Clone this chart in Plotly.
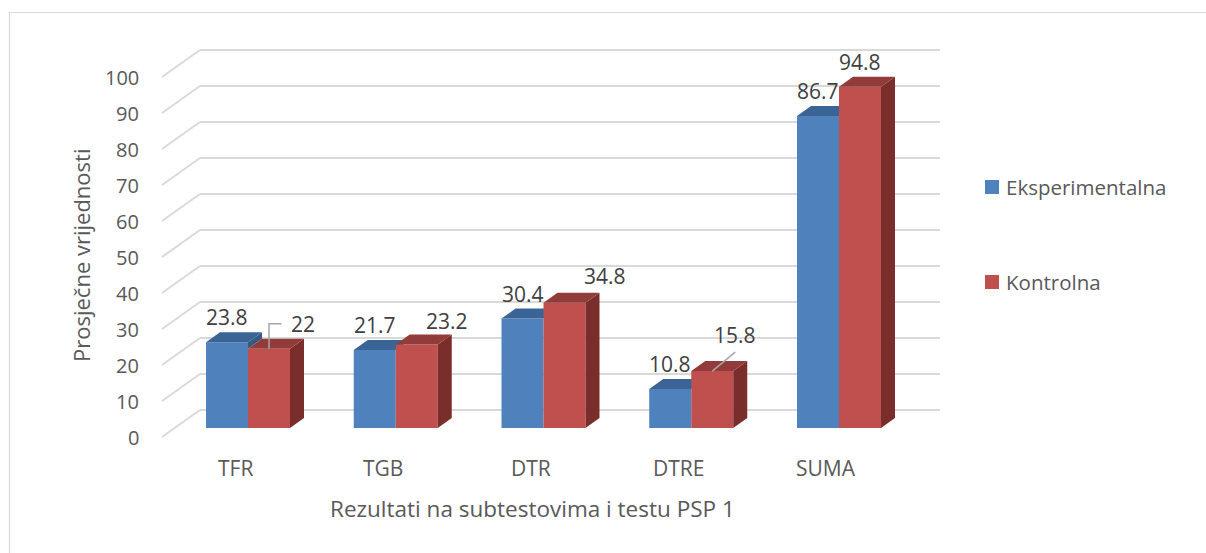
import plotly.graph_objects as go

# ---- data -------------------------------------------------------------
categories = ["TFR", "TGB", "DTR", "DTRE", "SUMA"]
eksperimentalna = [23.8, 21.7, 30.4, 10.8, 86.7]
kontrolna = [22, 23.2, 34.8, 15.8, 94.8]
y_ticks = [0, 10, 20, 30, 40, 50, 60, 70, 80, 90, 100]
series_names = ["Eksperimentalna", "Kontrolna"]

# ---- styling ----------------------------------------------------------
W, H = 1206, 553
FONT = "Open Sans, Noto Sans, sans-serif"
TXT = "#595959"
LBL = "#404040"
GRID = "#D9D9D9"
FRONT = ["#4F81BD", "#C0504D"]
TOP = ["#3B6496", "#913C3A"]
SIDE = ["#375A84", "#7A2E2C"]

# scale of the plotting plane (pixels per category / per value unit)
PX_PER_CAT = 147.75
PX_PER_UNIT = 3.6
X0_PX = 248.0      # pixel column of category 0 (blue/red seam)
Y0_PX = 428.0      # pixel row of value 0 on the bar plane


def X(px):
    return (px - X0_PX) / PX_PER_CAT


def Y(py):
    return (Y0_PX - py) / PX_PER_UNIT


def DX(px):
    return px / PX_PER_CAT


def DY(px):
    return px / PX_PER_UNIT


BW = DX(42)                      # width of one bar
DEPTH = (DX(14), DY(10))         # bar depth (right, up)
FRONT_OFF = (DX(-12.7), DY(-9))  # front wall plane relative to bars
BACK_OFF = (DX(25.3), DY(18))    # back wall plane relative to bars
GRID_LEFT = X(200)
GRID_RIGHT = X(940)

# label nudges in pixels (right, down) and leader style
label_nudge = {(1, 0): (33.5, 0), (1, 1): (30, 2), (1, 2): (40, -2), (1, 3): (23, -11.5)}
leader = {(1, 0): "elbow", (1, 3): "straight"}

fig = go.Figure()
shapes = []
annotations = []

# ---- walls / gridlines -----------------------------------------------
for v in y_ticks:
    yb = v + BACK_OFF[1]
    yf = v + FRONT_OFF[1]
    xf = GRID_LEFT - (BACK_OFF[0] - FRONT_OFF[0])
    shapes.append(dict(type="line", xref="x", yref="y", x0=GRID_LEFT, x1=GRID_RIGHT,
                       y0=yb, y1=yb, line=dict(color=GRID, width=2), layer="below"))
    shapes.append(dict(type="line", xref="x", yref="y", x0=xf, x1=GRID_LEFT,
                       y0=yf, y1=yb, line=dict(color=GRID, width=2), layer="below"))
    annotations.append(dict(x=X(141), y=yf, xref="x", yref="y", text=str(v),
                            showarrow=False, xanchor="right", yanchor="middle",
                            font=dict(family=FONT, size=20, color=TXT)))

# ---- 3D bars -----------------------------------------------------------
all_vals = [eksperimentalna, kontrolna]
xs = list(range(len(categories)))
for s, vals in enumerate(all_vals):
    xa, ya = ("x", "y") if s == 0 else ("x2", "y2")
    offset = -BW if s == 0 else 0.0
    fig.add_trace(go.Bar(
        x=xs, y=vals, base=0, offset=offset, width=BW, name=series_names[s],
        marker=dict(color=FRONT[s], line=dict(width=0)), xaxis=xa, yaxis=ya,
        showlegend=False, hoverinfo="skip"))
    for i, v in enumerate(vals):
        x0 = i + offset
        x1 = x0 + BW
        dx, dy = DEPTH
        # visible part of the side face
        lo = 0.0
        if s == 0:
            lo = min(kontrolna[i], v)
        sx = [x1, x1, x1 + dx, x1 + dx, x1]
        sy = [lo, v, v + dy, lo + dy, lo]
        fig.add_trace(go.Scatter(x=sx, y=sy, fill="toself", fillcolor=SIDE[s],
                                 mode="lines", line=dict(width=0), xaxis=xa, yaxis=ya,
                                 showlegend=False, hoverinfo="skip"))
        tx = [x0, x1, x1 + dx, x0 + dx, x0]
        ty = [v, v, v + dy, v + dy, v]
        fig.add_trace(go.Scatter(x=tx, y=ty, fill="toself", fillcolor=TOP[s],
                                 mode="lines", line=dict(width=0), xaxis=xa, yaxis=ya,
                                 showlegend=False, hoverinfo="skip"))

        # data label
        cx = x0 + BW / 2
        nx, ny = label_nudge.get((s, i), (0, 0))
        lx = cx + DX(nx)
        ly = v + DY(25) - DY(ny)
        annotations.append(dict(x=lx, y=ly, xref="x", yref="y", text=f"{v:g}",
                                showarrow=False, xanchor="center", yanchor="middle",
                                font=dict(family=FONT, size=21, color=LBL)))
        kind = leader.get((s, i))
        if kind == "elbow":
            shapes.append(dict(type="path", xref="x", yref="y",
                               path=f"M {cx} {v} L {cx} {ly} L {lx - DX(21)} {ly}",
                               line=dict(color="#A6A6A6", width=1.5)))
        elif kind == "straight":
            shapes.append(dict(type="line", xref="x", yref="y", x0=cx, y0=v,
                               x1=lx, y1=ly - DY(17.5),
                               line=dict(color="#A6A6A6", width=1.5)))

# ---- category labels & titles -----------------------------------------
for i, c in enumerate(categories):
    annotations.append(dict(x=i + FRONT_OFF[0], y=Y(468), xref="x", yref="y", text=c,
                            showarrow=False, xanchor="center", yanchor="middle",
                            font=dict(family=FONT, size=21, color=TXT)))

annotations.append(dict(x=X(532), y=Y(508), xref="x", yref="y",
                        text="Rezultati na subtestovima i testu PSP 1", showarrow=False,
                        xanchor="center", yanchor="middle",
                        font=dict(family=FONT, size=22.5, color=TXT)))
annotations.append(dict(x=X(81), y=Y(256), xref="x", yref="y",
                        text="Prosječne vrijednosti", showarrow=False, textangle=-90,
                        xanchor="center", yanchor="middle",
                        font=dict(family=FONT, size=22, color=TXT)))

# ---- legend ------------------------------------------------------------
for s, (name, ypx) in enumerate(zip(series_names, [187, 282])):
    shapes.append(dict(type="rect", xref="paper", yref="paper",
                       x0=985 / W, x1=999 / W, y0=1 - (ypx + 7) / H, y1=1 - (ypx - 7) / H,
                       fillcolor=FRONT[s], line=dict(width=0)))
    annotations.append(dict(x=1004 / W, y=1 - ypx / H, xref="paper", yref="paper",
                            text=name, showarrow=False, xanchor="left", yanchor="middle",
                            font=dict(family=FONT, size=20.5, color=TXT)))

# chart frame
shapes.append(dict(type="rect", xref="paper", yref="paper", x0=9.5 / W, x1=1.02,
                   y0=-0.05, y1=1 - 12.5 / H, line=dict(color=GRID, width=1.2),
                   layer="below"))

xr = [X(0), X(W)]
yr = [Y(H), Y(0)]
axis_common = dict(visible=False, fixedrange=True)
fig.update_layout(
    width=W, height=H, margin=dict(l=0, r=0, t=0, b=0),
    paper_bgcolor="white", plot_bgcolor="rgba(0,0,0,0)",
    barmode="overlay", showlegend=False,
    xaxis=dict(range=xr, domain=[0, 1], **axis_common),
    yaxis=dict(range=yr, domain=[0, 1], **axis_common),
    xaxis2=dict(range=xr, overlaying="x", **axis_common),
    yaxis2=dict(range=yr, overlaying="y", **axis_common),
    shapes=shapes, annotations=annotations,
)

fig.write_html("out.html")
